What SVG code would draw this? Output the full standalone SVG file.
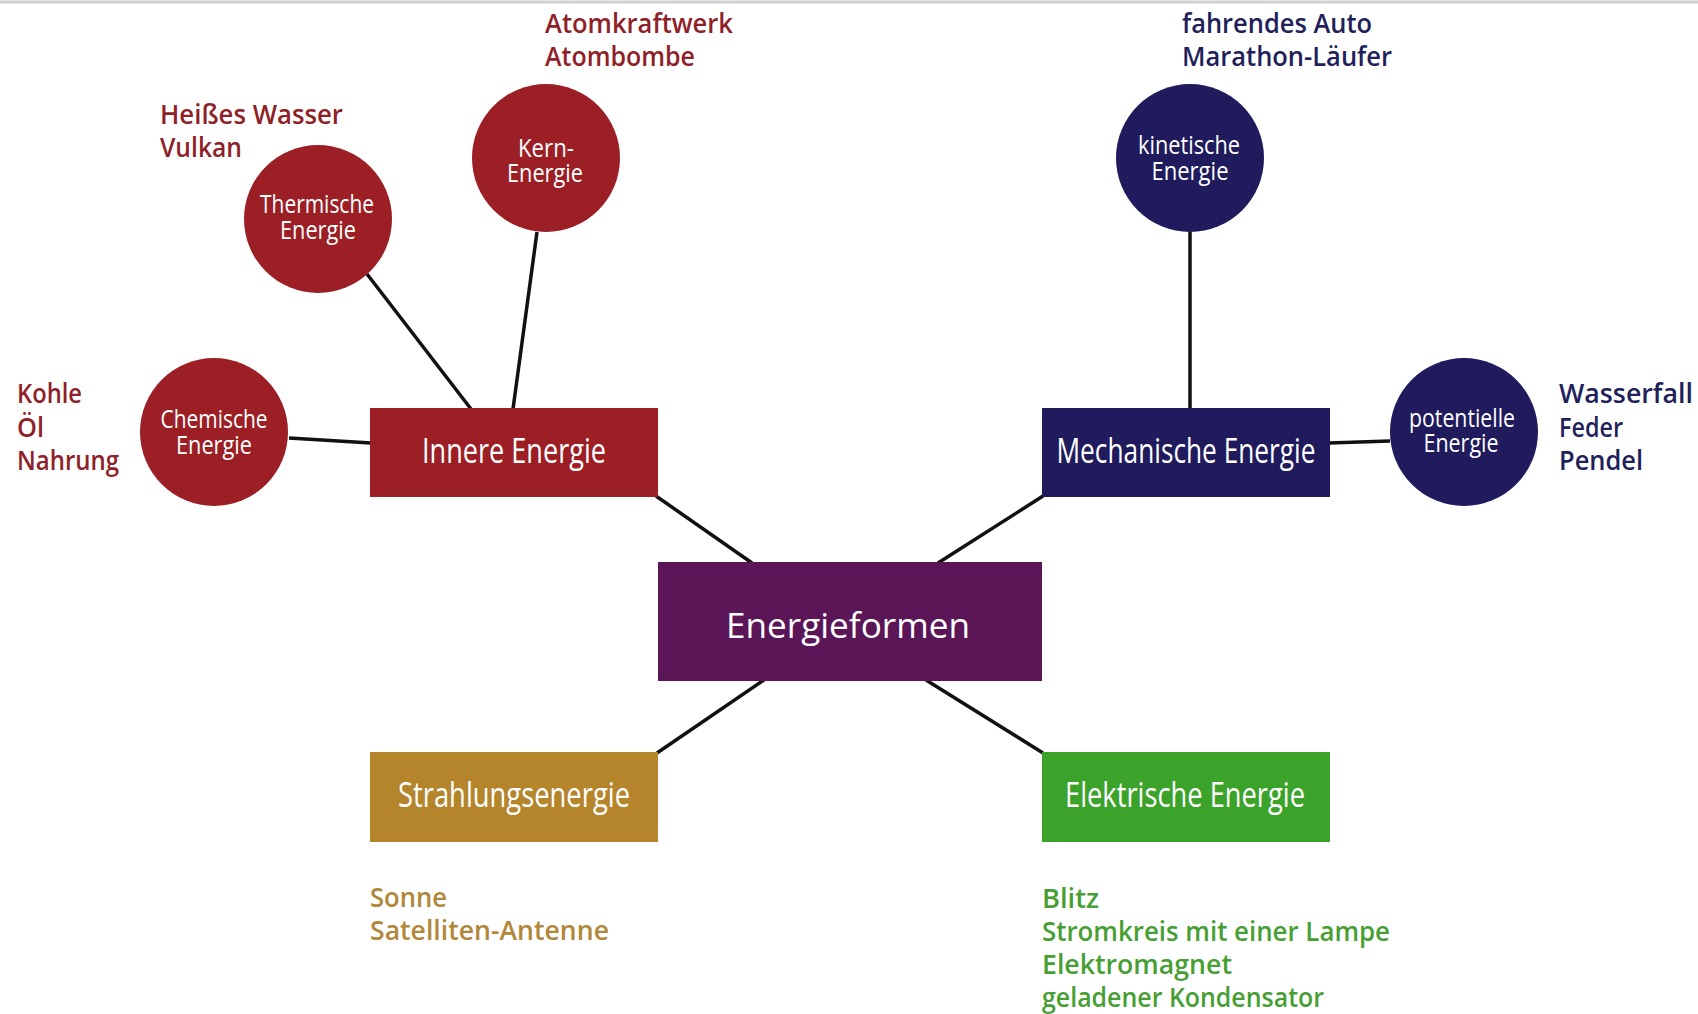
<svg xmlns="http://www.w3.org/2000/svg" width="1698" height="1014" viewBox="0 0 1698 1014">
<style>
.box{font-family:"Open Sans","Liberation Sans",sans-serif;font-size:35px;fill:#fff;text-anchor:middle}
.circ{font-family:"Open Sans","Liberation Sans",sans-serif;font-size:26px;fill:#fff;text-anchor:middle}
.lbl{font-family:"Open Sans","Liberation Sans",sans-serif;font-size:27px;font-weight:600}
.red{fill:#8f1f29}
.navy{fill:#221f5b}
.gold{fill:#b1873a}
.green{fill:#479f34}
.conn line{stroke:#111;stroke-width:3.5;stroke-linecap:butt}
</style>
<rect x="0" y="0" width="1698" height="1014" fill="#fff"/>
<line x1="0" y1="2" x2="1698" y2="2" stroke="#cfcfcf" stroke-width="3"/>
<g class="conn" id="connectors">
<line x1="289" y1="438" x2="371" y2="443"/>
<line x1="367" y1="274" x2="471" y2="409"/>
<line x1="537" y1="232" x2="513" y2="409"/>
<line x1="1190" y1="232" x2="1190" y2="409"/>
<line x1="1329" y1="443" x2="1390" y2="441"/>
<line x1="752" y1="563" x2="656" y2="496"/>
<line x1="938" y1="563" x2="1043" y2="496"/>
<line x1="764" y1="680" x2="657" y2="753"/>
<line x1="926" y1="680" x2="1043" y2="753"/>
</g>
<g id="energieformen">
<rect x="658" y="562" width="384" height="119" fill="#5b1657"/>
<text class="box" x="848" y="638" font-size="50" textLength="244" lengthAdjust="spacingAndGlyphs">Energieformen</text>
</g>
<g id="innere">
<rect x="370" y="408" width="288" height="89" fill="#9b1f24"/>
<text class="box" x="514" y="463" textLength="184" lengthAdjust="spacingAndGlyphs">Innere Energie</text>
</g>
<g id="mechanische">
<rect x="1042" y="408" width="288" height="89" fill="#1f1b5c"/>
<text class="box" x="1186" y="463" textLength="259" lengthAdjust="spacingAndGlyphs">Mechanische Energie</text>
</g>
<g id="strahlung">
<rect x="370" y="752" width="288" height="90" fill="#b5852c"/>
<text class="box" x="514" y="807" textLength="232" lengthAdjust="spacingAndGlyphs">Strahlungsenergie</text>
</g>
<g id="elektrisch">
<rect x="1042" y="752" width="288" height="90" fill="#3ba22a"/>
<text class="box" x="1185" y="807" textLength="240" lengthAdjust="spacingAndGlyphs">Elektrische Energie</text>
</g>
<g id="chemische">
<circle cx="214" cy="432" r="74" fill="#9b1f24"/>
<text class="circ" x="214" y="428" textLength="107" lengthAdjust="spacingAndGlyphs">Chemische</text>
<text class="circ" x="214" y="454" textLength="76" lengthAdjust="spacingAndGlyphs">Energie</text>
</g>
<g id="thermische">
<circle cx="318" cy="219" r="74" fill="#9b1f24"/>
<text class="circ" x="317" y="213" textLength="114" lengthAdjust="spacingAndGlyphs">Thermische</text>
<text class="circ" x="318" y="239" textLength="76" lengthAdjust="spacingAndGlyphs">Energie</text>
</g>
<g id="kern">
<circle cx="546" cy="158" r="74" fill="#9b1f24"/>
<text class="circ" x="546" y="157" textLength="56" lengthAdjust="spacingAndGlyphs">Kern-</text>
<text class="circ" x="545" y="182" textLength="76" lengthAdjust="spacingAndGlyphs">Energie</text>
</g>
<g id="kinetische">
<circle cx="1190" cy="158" r="74" fill="#1f1b5c"/>
<text class="circ" x="1189" y="154" textLength="102" lengthAdjust="spacingAndGlyphs">kinetische</text>
<text class="circ" x="1190" y="180" textLength="77" lengthAdjust="spacingAndGlyphs">Energie</text>
</g>
<g id="potentielle">
<circle cx="1464" cy="432" r="74" fill="#1f1b5c"/>
<text class="circ" x="1462" y="427" textLength="106" lengthAdjust="spacingAndGlyphs">potentielle</text>
<text class="circ" x="1461" y="452" textLength="75" lengthAdjust="spacingAndGlyphs">Energie</text>
</g>
<g id="labels">
<text class="lbl red" x="545" y="33" textLength="188" lengthAdjust="spacingAndGlyphs">Atomkraftwerk</text>
<text class="lbl red" x="545" y="66" textLength="150" lengthAdjust="spacingAndGlyphs">Atombombe</text>
<text class="lbl red" x="160" y="124" textLength="183" lengthAdjust="spacingAndGlyphs">Heißes Wasser</text>
<text class="lbl red" x="160" y="157" textLength="82" lengthAdjust="spacingAndGlyphs">Vulkan</text>
<text class="lbl red" x="17" y="403" textLength="65" lengthAdjust="spacingAndGlyphs">Kohle</text>
<text class="lbl red" x="17" y="437" textLength="27" lengthAdjust="spacingAndGlyphs">Öl</text>
<text class="lbl red" x="17" y="470" textLength="102" lengthAdjust="spacingAndGlyphs">Nahrung</text>
<text class="lbl navy" x="1182" y="33" textLength="190" lengthAdjust="spacingAndGlyphs">fahrendes Auto</text>
<text class="lbl navy" x="1182" y="66" textLength="210" lengthAdjust="spacingAndGlyphs">Marathon-Läufer</text>
<text class="lbl navy" x="1559" y="403" textLength="134" lengthAdjust="spacingAndGlyphs">Wasserfall</text>
<text class="lbl navy" x="1559" y="437" textLength="64" lengthAdjust="spacingAndGlyphs">Feder</text>
<text class="lbl navy" x="1559" y="470" textLength="84" lengthAdjust="spacingAndGlyphs">Pendel</text>
<text class="lbl gold" x="370" y="907" textLength="77" lengthAdjust="spacingAndGlyphs">Sonne</text>
<text class="lbl gold" x="370" y="940" textLength="239" lengthAdjust="spacingAndGlyphs">Satelliten-Antenne</text>
<text class="lbl green" x="1042" y="908" textLength="57" lengthAdjust="spacingAndGlyphs">Blitz</text>
<text class="lbl green" x="1042" y="941" textLength="348" lengthAdjust="spacingAndGlyphs">Stromkreis mit einer Lampe</text>
<text class="lbl green" x="1042" y="974" textLength="190" lengthAdjust="spacingAndGlyphs">Elektromagnet</text>
<text class="lbl green" x="1042" y="1007" textLength="282" lengthAdjust="spacingAndGlyphs">geladener Kondensator</text>
</g>
</svg>
